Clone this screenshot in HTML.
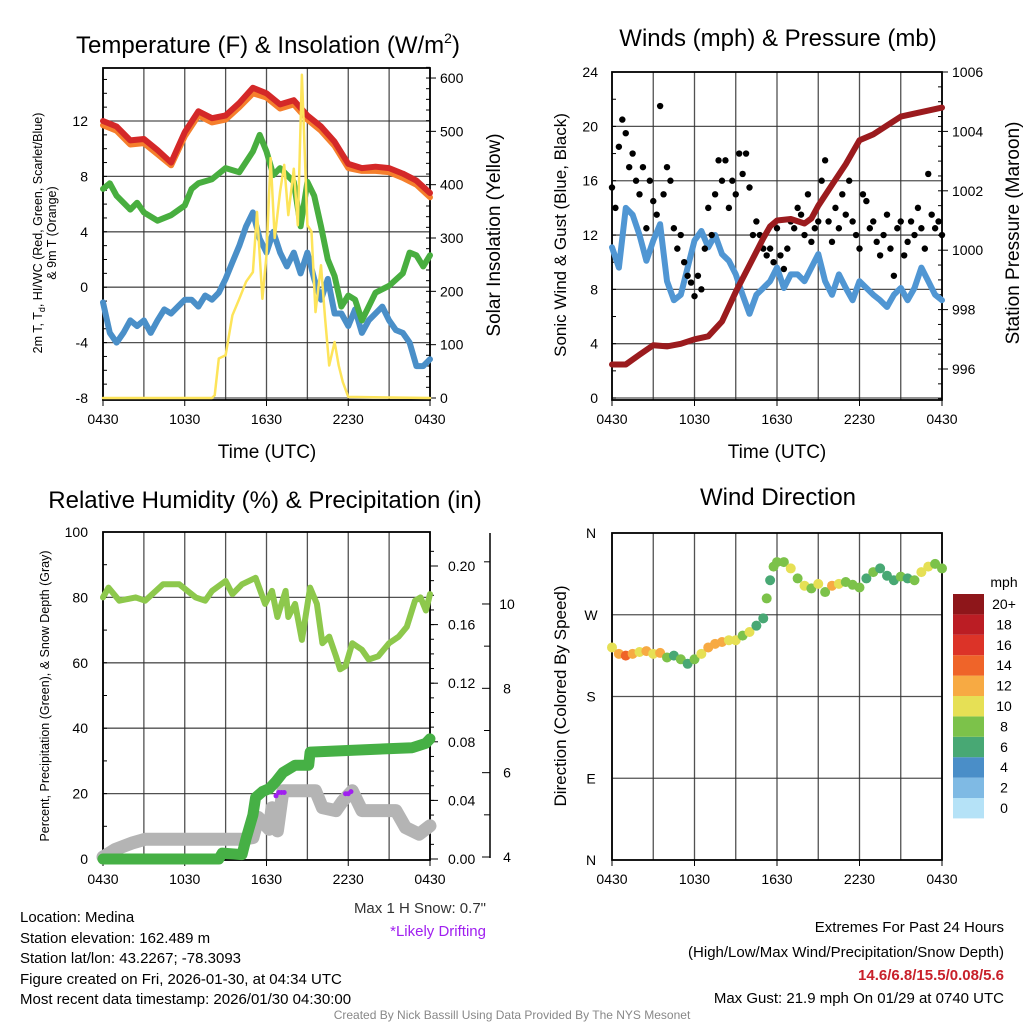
<!DOCTYPE html>
<html><head><meta charset="utf-8">
<style>
html,body{margin:0;padding:0;background:#fff;}
svg{display:block;font-family:"Liberation Sans",Arial,sans-serif;}
</style></head>
<body>
<svg id="chart" width="1024" height="1024" viewBox="0 0 1024 1024" xmlns="http://www.w3.org/2000/svg">
<rect width="1024" height="1024" fill="#fff"/>
<g id="layer"></g>
<text x="268" y="53" font-size="24" text-anchor="middle">Temperature (F) &amp; Insolation (W/m<tspan font-size="14" dy="-10">2</tspan><tspan dy="10">)</tspan></text>
<text x="778" y="46" font-size="24" text-anchor="middle">Winds (mph) &amp; Pressure (mb)</text>
<text x="265" y="508" font-size="24" text-anchor="middle">Relative Humidity (%) &amp; Precipitation (in)</text>
<text x="778" y="505" font-size="24" text-anchor="middle">Wind Direction</text>
<text x="267" y="458" font-size="19" text-anchor="middle">Time (UTC)</text>
<text x="777" y="458" font-size="19" text-anchor="middle">Time (UTC)</text>
<text transform="translate(42,233) rotate(-90)" font-size="12.5" text-anchor="middle">2m T, T<tspan font-size="9" dy="3">d</tspan><tspan dy="-3">, HI/WC (Red, Green, Scarlet/Blue)</tspan></text>
<text transform="translate(56,233) rotate(-90)" font-size="12.5" text-anchor="middle">&amp; 9m T (Orange)</text>
<text transform="translate(500,235) rotate(-90)" font-size="19" text-anchor="middle">Solar Insolation (Yellow)</text>
<text transform="translate(566,235) rotate(-90)" font-size="17" text-anchor="middle">Sonic Wind &amp; Gust (Blue, Black)</text>
<text transform="translate(1019,233) rotate(-90)" font-size="19" text-anchor="middle">Station Pressure (Maroon)</text>
<text transform="translate(49,696) rotate(-90)" font-size="12.5" text-anchor="middle">Percent, Precipitation (Green), &amp; Snow Depth (Gray)</text>
<text transform="translate(566,696) rotate(-90)" font-size="17" text-anchor="middle">Direction (Colored By Speed)</text>
<text x="486" y="913" font-size="15" text-anchor="end" fill="#333">Max 1 H Snow: 0.7"</text>
<text x="486" y="936" font-size="15" text-anchor="end" fill="#a020f0">*Likely Drifting</text>
<g font-size="15">
<text x="20" y="922">Location: Medina</text>
<text x="20" y="943">Station elevation: 162.489 m</text>
<text x="20" y="963">Station lat/lon: 43.2267; -78.3093</text>
<text x="20" y="984">Figure created on Fri, 2026-01-30, at 04:34 UTC</text>
<text x="20" y="1004">Most recent data timestamp: 2026/01/30 04:30:00</text>
</g>
<g font-size="15" text-anchor="end">
<text x="1004" y="932">Extremes For Past 24 Hours</text>
<text x="1004" y="957">(High/Low/Max Wind/Precipitation/Snow Depth)</text>
<text x="1004" y="980" fill="#c8202a" font-weight="bold">14.6/6.8/15.5/0.08/5.6</text>
<text x="1004" y="1003">Max Gust: 21.9 mph On 01/29 at 0740 UTC</text>
</g>
<text x="512" y="1019" font-size="12" text-anchor="middle" fill="#888">Created By Nick Bassill Using Data Provided By The NYS Mesonet</text>
</svg>
<script>
// ---------- DATA ----------
const tT=[0,1,2,3,4,5,6,7,8,9,10,11,12,13,14,15,16,17,18,19,20,21,22,23,24];
const tempRed=[12,11.6,10.6,10.7,9.9,9.0,11.2,12.7,12.2,12.4,13.3,14.4,14.0,13.2,13.5,12.4,11.6,10.5,8.9,8.6,8.7,8.6,8.2,7.7,6.8];
const tempOrange=[11.7,11.3,10.3,10.4,9.6,8.8,10.9,12.4,11.9,12.1,13.0,14.0,13.7,12.9,13.2,12.1,11.3,10.2,8.6,8.4,8.4,8.3,7.9,7.4,6.5];
const tH=[0,0.5,1,2,2.5,3,4,5,6,6.5,7,8,9,10,11,11.5,12,12.5,13,14,14.5,15,15.5,16,16.5,17,17.5,18,18.5,19,19.5,20,21,22,22.5,23,23.5,24];
const dewGreen=[7.1,7.5,6.6,5.6,6.1,5.4,4.8,5.2,5.9,7.1,7.5,7.8,8.6,8.3,9.8,11,9.8,8.1,8.6,7.6,4.4,7.6,6.6,4.4,2,0.8,-1.4,-0.6,-0.9,-2.4,-1.4,-0.4,0.1,1,2.5,2.3,1.5,2.3];
const tB=[0,0.5,1,1.5,2,2.5,3,3.5,4,4.5,5,5.5,6,6.5,7,7.5,8,8.5,9,9.5,10,10.5,11,11.5,12,12.5,13,13.5,14,14.5,15,15.5,16,16.5,17,17.5,18,18.5,19,19.5,20,20.5,21,21.5,22,22.5,23,23.5,24];
const chillBlue=[-1.1,-3.3,-4,-3.3,-2.4,-2.8,-2.4,-3.3,-2.4,-1.6,-1.9,-1.4,-0.9,-0.9,-1.4,-0.6,-0.9,-0.4,0.6,1.8,3,4.4,5.4,3.5,2.5,4,2.5,1.5,2.5,1,2.5,0.6,-0.9,0.6,-1.9,-1.9,-2.8,-1.6,-3.3,-2.4,-1.9,-1.4,-2.4,-3.1,-3.3,-4,-5.7,-5.7,-5.2];
const tS=[0,8,8.2,8.5,9,9.5,10,10.5,11,11.3,11.7,12,12.3,12.6,13,13.3,13.6,14,14.3,14.6,15,15.3,15.6,16,16.3,16.6,17,17.3,17.6,18,24];
const solar=[0,0,5,74,80,155,186,218,236,349,186,268,450,300,387,437,343,430,324,606,324,312,161,249,149,61,105,61,30,2,0];
const tW=tB;
const windBlue=[11.1,9.6,14,13.5,12,10.1,11.6,12.8,8.6,7.2,7.6,9.6,11.6,12.3,11.1,12,10.6,10.1,9.1,7.6,6.2,7.6,8.1,8.6,9.6,8.1,9.1,9.1,8.6,9.6,10.6,8.6,7.6,9.1,8.1,7.2,8.6,8.1,7.6,7.2,6.7,7.6,8.1,7.2,8.1,9.6,8.6,7.6,7.2];
const gusts=[15.5,14,18.5,20.5,19.5,17,18,16,15,17,12.5,16,14.5,13.5,21.5,15,17,16,12.5,11,12,10,9,8.5,7.5,9,8,11,14,12,15,17.5,16,17.5,14,16,15,18,16.5,18,15.5,12,13,12,11,10.5,11,10,12.5,10.5,9.5,11,13,12.5,14,13.5,12,15,11.5,12.5,13,16,17.5,13,11.5,14,12.5,15,13.5,16,13,12,11,15,14.5,12.5,13,11.5,10.5,12,13.5,11,9,12.5,13,10.5,11.5,13,12,14,12.5,11,16.5,13.5,12.5,13,12];
const tP=[0,1,2,3,4,5,6,7,8,9,10,11,11.5,12,13,14,14.5,15,16,17,18,19,20,21,22,23,24];
const pressure=[996.15,996.15,996.48,996.8,996.76,996.85,997.0,997.1,997.6,998.6,999.5,1000.4,1000.8,1001.0,1001.05,1000.9,1001.07,1001.5,1002.2,1002.9,1003.7,1003.9,1004.2,1004.5,1004.6,1004.7,1004.8];
// Panel 3
const tR=[0,0.4,1.2,2.4,3.1,4.4,5.6,6.8,7.5,8,9,9.5,10.2,11.2,11.9,12.4,12.8,13.4,13.6,14.1,14.6,15.2,15.7,16.1,16.6,17.1,17.4,17.8,18.3,19,19.5,20.2,21,21.7,22.3,22.9,23.3,23.7,24];
const rh=[80,83,79,80,79,84,84,80,79,82,85,81,84,86,78,82,74,82,74,78,67,83,78,66,68,62,58,59,66,64,61,62,66,68,71,79,80,76,81];
const tPr=[0,8.5,8.75,10.2,10.5,11,11.2,11.7,12.2,12.7,13.2,14.1,15.1,15.2,22.7,23.7,24];
const precip=[0,0,0.004,0.003,0.014,0.03,0.042,0.046,0.048,0.053,0.059,0.064,0.064,0.073,0.076,0.079,0.082];
const tSn=[0,0.9,2.2,3.1,4.4,6,8,10.2,11,11.4,12.2,12.4,12.8,13.2,15.6,16.1,17.1,17.6,18.3,19,21.5,22.2,23.2,24];
const snowDepth=[4.0,4.18,4.34,4.42,4.42,4.42,4.42,4.42,4.46,4.94,4.66,5.17,4.62,5.57,5.57,5.17,5.1,5.33,5.57,5.1,5.1,4.7,4.54,4.74];
const tDrift=[12.7,12.9,13.1,13.3,17.8,18.0,18.2];
const drift=[5.45,5.53,5.53,5.53,5.5,5.5,5.55];
// Panel 4
const tD=[0,0.5,1,1.5,2,2.5,3,3.5,4,4.5,5,5.5,6,6.5,7,7.5,8,8.5,9,9.5,10,10.5,11,11.25,11.5,11.75,12,12.5,13,13.5,14,14.5,15,15.5,16,16.5,17,17.5,18,18.5,19,19.5,20,20.5,21,21.5,22,22.5,23,23.5,24];
const direction=[234,227,225,227,229,230,227,228,223,225,221,216,221,227,234,238,240,242,242,247,251,258,266,288,308,323,328,328,321,310,302,299,304,295,302,304,306,303,300,310,317,321,313,308,312,310,308,317,323,326,321];
const dirSpeed=[10.5,13,14.5,12.5,11,12.5,11,12,8.5,7,8.5,7,9,11,12.5,13,12.5,11,11,9,10,7,7,8,7,9,9,9,10.5,8.5,10.5,9,10.5,9,12.5,10.5,9,8.5,9,7,9,7,6.5,7,9,7,9,10.5,10.5,9,8.5];
const xTickLabels=["0430","1030","1630","2230","0430"];
const speedBins=["0","2","4","6","8","10","12","14","16","18","20+"];
const speedColors=["#b5e2f7","#7fbae4","#4a8ec8","#48a874","#7cc24a","#e6e055","#f7aa43","#ef6429","#dc3328","#bb1d24","#8e161a"];

// ---------- SCALES ----------
const NS="http://www.w3.org/2000/svg";
const L=document.getElementById('layer');
function el(tag,attrs,parent){const e=document.createElementNS(NS,tag);for(const k in attrs)e.setAttribute(k,attrs[k]);(parent||L).appendChild(e);return e;}
const x1=h=>103+h*327/24, yT=v=>398-(v+8)*13.85, yS=w=>398-w*0.5333;
const x2=h=>612+h*330/24, yW=v=>398-v*13.58, yP=p=>369-(p-996)*29.7;
const x3=x1, yR=p=>859-p*3.27, yPr=v=>859-v*1465, ySn=s=>857-(s-4)*42.17;
const x4=x2, yD=d=>860-d*0.9083;

function line(ts,vs,xf,yf,color,w,name){
  let d='';ts.forEach((t,i)=>{d+=(i?'L':'M')+xf(t).toFixed(1)+','+yf(vs[i]).toFixed(1);});
  const p=el('path',{d:d,fill:'none',stroke:color,'stroke-width':w,'stroke-linecap':'round','stroke-linejoin':'round'});
  
  
  return p;
}
function txt(x,y,s,anchor,size,name){const t=el('text',{x:x,y:y,'font-size':size||14,'text-anchor':anchor||'middle'});t.textContent=s;
  
  
  return t;}
function grid(x0,x1p,y0,y1p,ys,xn,prefix){
  for(let i=0;i<=8;i++){const x=x0+(x1p-x0)*i/8;el('line',{x1:x,x2:x,y1:y0,y2:y1p,stroke:'#333','stroke-width':1.3,'stroke-opacity':0.85});}
  ys.forEach(y=>el('line',{x1:x0,x2:x1p,y1:y,y2:y,stroke:'#333','stroke-width':1.3,'stroke-opacity':0.85}));
  const b=el('rect',{x:x0,y:y0,width:x1p-x0,height:y1p-y0,fill:'none',stroke:'#000','stroke-width':1.8});
  
  
  xTickLabels.forEach((s,i)=>{const x=x0+(x1p-x0)*i/4;el('line',{x1:x,x2:x,y1:y1p,y2:y1p+6,stroke:'#000'});txt(x,y1p+24,s,'middle',14,prefix+'-x-tick-label');});
}

// ---------- PANEL 1 ----------
grid(103,430,68,400,[-8,-4,0,4,8,12].map(yT),8,'p1');
[-8,-4,0,4,8,12].forEach(v=>txt(88,yT(v)+5,String(v),'end',14,'p1-y-tick-label'));
for(let v=-8;v<=15;v++)el('line',{x1:103,x2:107,y1:yT(v),y2:yT(v),stroke:'#000'});
[0,100,200,300,400,500,600].forEach(v=>{el('line',{x1:430,x2:436,y1:yS(v),y2:yS(v),stroke:'#000'});txt(440,yS(v)+5,String(v),'start',14,'p1-right-tick-label');});
for(let v=0;v<=620;v+=20)el('line',{x1:426,x2:430,y1:yS(v),y2:yS(v),stroke:'#000'});
line(tB,chillBlue,x1,yT,'#4a8fc8',6,'wind-chill-line');
line(tH,dewGreen,x1,yT,'#48ae3f',6,'dewpoint-line');
line(tT,tempOrange,x1,yT,'#f57f2c',6,'temp-9m-line');
line(tT,tempRed,x1,yT,'#d42828',6,'temp-2m-line');
line(tS,solar,x1,yS,'#fde45a',2.5,'solar-insolation-line');

// ---------- PANEL 2 ----------
grid(612,942,72,400,[0,4,8,12,16,20].map(yW),8,'p2');
[0,4,8,12,16,20,24].forEach(v=>txt(598,yW(v)+5,String(v),'end',14,'p2-y-tick-label'));
for(let v=0;v<=24;v+=2)el('line',{x1:612,x2:616,y1:yW(v),y2:yW(v),stroke:'#000'});
[996,998,1000,1002,1004,1006].forEach(v=>{el('line',{x1:942,x2:948,y1:yP(v),y2:yP(v),stroke:'#000'});txt(952,yP(v)+5,String(v),'start',14,'p2-right-tick-label');});
for(let v=995;v<=1006;v+=0.5)el('line',{x1:938,x2:942,y1:yP(v),y2:yP(v),stroke:'#000'});
line(tW,windBlue,x2,yW,'#5096d3',6,'sonic-wind-line');
gusts.forEach((g,i)=>{const c=el('circle',{cx:x2(i*24/(gusts.length-1)),cy:yW(g),r:3.2,fill:'#000'});
  
  });
line(tP,pressure,x2,yP,'#9b1b1e',6,'pressure-line');

// ---------- PANEL 3 ----------
grid(103,430,532,860,[20,40,60,80].map(yR),8,'p3');
[0,20,40,60,80,100].forEach(v=>txt(88,yR(v)+5,String(v),'end',14,'p3-y-tick-label'));
for(let v=0;v<=100;v+=10)el('line',{x1:103,x2:107,y1:yR(v),y2:yR(v),stroke:'#000'});
[0,0.04,0.08,0.12,0.16,0.20].forEach(v=>{el('line',{x1:430,x2:438,y1:yPr(v),y2:yPr(v),stroke:'#000'});txt(448,yPr(v)+5,v.toFixed(2),'start',14,'precip-tick-label');});
for(let v=0;v<=0.22;v+=0.01)el('line',{x1:430,x2:434,y1:yPr(v),y2:yPr(v),stroke:'#000'});
el('line',{x1:490,x2:490,y1:533,y2:858,stroke:'#000','stroke-width':1.5});
[4,6,8,10].forEach(v=>{el('line',{x1:482,x2:490,y1:ySn(v),y2:ySn(v),stroke:'#000'});txt(507,ySn(v)+5,String(v),'middle',14,'snow-tick-label');});
[5,7,9,11].forEach(v=>el('line',{x1:484,x2:490,y1:ySn(v),y2:ySn(v),stroke:'#000'}));
line(tSn,snowDepth,x3,ySn,'#b4b4b4',13,'snow-depth-line');
line(tPr,precip,x3,yPr,'#46b045',11,'precip-line');
line(tR,rh,x3,yR,'#8dc84c',6,'rh-line');
tDrift.forEach((t,i)=>{const c=el('circle',{cx:x3(t),cy:ySn(drift[i]),r:2.5,fill:'#a020f0'});
  
  });

// ---------- PANEL 4 ----------
grid(612,942,533,860,[90,180,270].map(yD),8,'p4');
[['N',0],['E',90],['S',180],['W',270],['N',360]].forEach(a=>txt(591,yD(a[1])+5,a[0],'middle',14,'direction-tick-label'));
function spColor(s){let k=Math.floor(s/2);if(k>10)k=10;if(k<0)k=0;return speedColors[k];}
tD.forEach((t,i)=>{const c=el('circle',{cx:x4(t),cy:yD(direction[i]),r:5,fill:spColor(dirSpeed[i])});
  
  });
const cb=el('g',{});


txt(1004,587,'mph','middle',14,'colorbar-title');
speedBins.forEach((s,i)=>{const y=594+(10-i)*20.4;el('rect',{x:953,y:y,width:31,height:20.4,fill:speedColors[i]},cb);txt(1004,y+15,s,'middle',14,'colorbar-label');});
</script>
</body></html>
